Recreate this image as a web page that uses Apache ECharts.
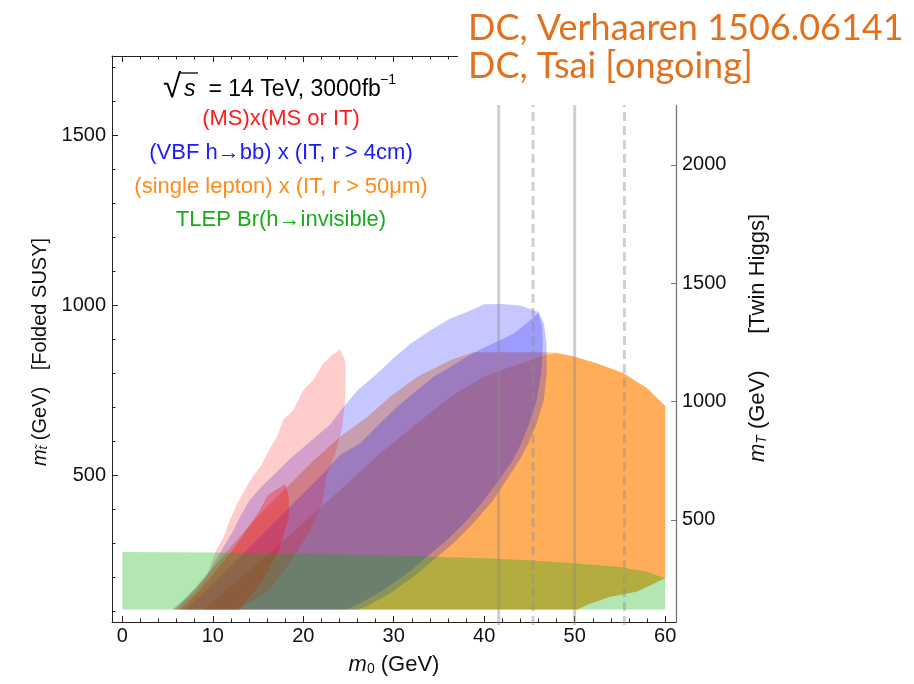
<!DOCTYPE html>
<html><head><meta charset="utf-8">
<script src="https://cdn.jsdelivr.net/npm/echarts@6/dist/echarts.min.js"></script>
<style>html,body{margin:0;padding:0;background:#fff}#c{width:914px;height:684px}</style>
</head><body><div id="c"></div>
<script>
// ---- tick values ----
const xTicks = [0, 10, 20, 30, 40, 50, 60];
const xMinorTicks = [2,4,6,8,12,14,16,18,22,24,26,28,32,34,36,38,42,44,46,48,52,54,56,58];
const yLeftTicks = [500, 1000, 1500];
const yLeftMinorTicks = [100,200,300,400,600,700,800,900,1100,1200,1300,1400,1600,1700];
const yRightTicks = [500, 1000, 1500, 2000];
// ---- vertical reference lines (m0 in GeV) ----
const solidLines = [41.6, 50.0];
const dashedLines = [45.4, 55.5];
// ---- regions: [m0, m_stop] ----
const orangeOuter = [[6,105],[50.3,105],[51.4,119],[53.9,143],[55.4,150],[56.9,158],[58,172],[60,197],[60,704],[58,756],[55.4,800],[52.5,829],[49.9,849],[48,860],[46.9,862],[38.8,862],[36.3,839],[32.6,790],[29.6,731],[27.1,672],[24.1,614],[21,540],[18,460],[15,380],[12,290],[9.5,210],[7.5,150]];
const orangeInner = [[9,105],[50.3,105],[51.4,119],[53.9,143],[55.4,150],[56.9,158],[58,172],[60,197],[60,704],[58,756],[55.4,800],[52.5,829],[49.9,849],[48,859],[46.5,852],[44.7,834],[42.5,815],[39.9,790],[36.3,731],[32.6,653],[28.5,565],[24.1,457],[20,360],[16,265],[12,175]];
const blueOuter = [[5.6,105],[6.7,133],[8.2,172],[9.7,221],[11.2,290],[12.3,339],[13,378],[14.1,428],[15.5,470],[17.1,510],[18.6,550],[20.8,600],[23,650],[24.1,690],[26,750],[27.9,793],[30,845],[31.8,886],[34,925],[36.2,960],[38.1,980],[40,1003],[41.8,1004],[44,999],[46,980],[46.6,947],[46.9,888],[46.9,800],[46.6,721],[45.8,653],[44.9,594],[43.9,545],[42.7,496],[41,427],[38.8,359],[36.6,300],[34.4,251],[32.2,202],[29.6,153],[27,114],[26,105]];
const blueInner = [[7,105],[10,180],[13,260],[16,340],[19,420],[22,500],[24.1,560],[26.3,594],[28.5,653],[30.4,702],[32.6,751],[34.4,790],[36.3,819],[38.1,849],[39.9,874],[41.8,898],[43.3,918],[44.7,947],[46,978],[46.4,940],[46.5,888],[46.3,800],[45.8,721],[45,653],[44.1,594],[43.2,545],[41.9,496],[40,427],[38.1,368],[35.9,310],[33.7,261],[31.5,212],[28.9,163],[26.3,124],[24.8,105]];
const pinkOuter = [[5.5,105],[6,113],[7.9,153],[9.3,202],[10.4,280],[11.2,319],[11.9,369],[12.7,417],[13.6,460],[14.5,500],[15.4,530],[16,564],[17.1,614],[17.8,663],[18.9,692],[20,751],[21.1,780],[22.2,829],[23.2,854],[24.1,870],[24.6,839],[24.7,800],[24.6,711],[24.3,640],[23.6,570],[22.6,500],[22.1,419],[20.8,339],[18.5,242],[16.3,163],[14.1,125],[12.5,105]];
const redInner = [[6.4,105],[7.1,123],[8.6,163],[10.4,221],[11.9,271],[13,310],[14.1,354],[15.2,398],[16.1,442],[16.7,452],[17.8,471],[18,476],[18.4,437],[18.4,378],[17.8,319],[17.3,280],[15.6,192],[14.1,143],[13,105]];
const greenRegion = [[0,105],[0,274],[10,273],[20,270],[30,264],[40,256],[45,250],[50,241],[55,230],[58,216],[60,197],[60,105]];

const FONT = '"Liberation Sans", Arial, sans-serif';

function polySeries(name, pts, fill) {
  return {
    type: 'custom', name: name, xAxisIndex: 0, yAxisIndex: 0, silent: true,
    data: pts, encode: {x: 0, y: 1},
    renderItem: function (params, api) {
      if (params.dataIndex !== 0) return null;
      return {type: 'polygon', shape: {points: pts.map(function (p) { return api.coord(p); })}, style: {fill: fill}};
    }
  };
}
function vlineSeries(xs, dashed) {
  return {
    type: 'custom', xAxisIndex: 0, yAxisIndex: 0, silent: true, clip: false, z: 5,
    data: xs.map(function (x) { return [x, 500]; }), encode: {x: 0, y: 1},
    renderItem: function (params, api) {
      const cs = params.coordSys;
      const px = api.coord([api.value(0), 500])[0];
      return {type: 'line', shape: {x1: px, y1: cs.y, x2: px, y2: cs.y + cs.height + 3},
        style: {stroke: 'rgba(140,140,140,0.42)', lineWidth: 3, lineDash: dashed ? [9, 5] : null}};
    }
  };
}

const XMIN = -1.14, XMAX = 61.2, YMIN = 68.5, YMAX = 1733, RMIN = 69, RMAX = 2460;
const tickStyle = {color: '#222', width: 1};
const plain = function (v) { return String(v); };
const lab = {fontSize: 20, fontFamily: FONT, color: '#111', formatter: plain};

const option = {
  animation: false,
  grid: {left: 112, right: 238, top: 56, bottom: 62, outerBoundsMode: 'none', containLabel: false},
  xAxis: [
    {type: 'value', position: 'bottom', min: XMIN, max: XMAX, splitLine: {show: false},
     axisLine: {show: true, onZero: false, lineStyle: tickStyle},
     axisTick: {show: true, inside: true, length: 6, customValues: xTicks, lineStyle: tickStyle},
     axisLabel: Object.assign({show: true, customValues: xTicks, margin: 4}, lab)},
    {type: 'value', position: 'bottom', min: XMIN, max: XMAX, splitLine: {show: false},
     axisLine: {show: false, onZero: false}, axisLabel: {show: false},
     axisTick: {show: true, inside: true, length: 3.5, customValues: xMinorTicks, lineStyle: tickStyle}},
    {type: 'value', position: 'top', min: XMIN, max: XMAX, splitLine: {show: false},
     axisLine: {show: true, onZero: false, lineStyle: tickStyle}, axisLabel: {show: false},
     axisTick: {show: true, inside: true, length: 6, customValues: xTicks, lineStyle: tickStyle}},
    {type: 'value', position: 'top', min: XMIN, max: XMAX, splitLine: {show: false},
     axisLine: {show: false, onZero: false}, axisLabel: {show: false},
     axisTick: {show: true, inside: true, length: 3.5, customValues: xMinorTicks, lineStyle: tickStyle}}
  ],
  yAxis: [
    {type: 'value', position: 'left', min: YMIN, max: YMAX, splitLine: {show: false},
     axisLine: {show: true, onZero: false, lineStyle: tickStyle},
     axisTick: {show: true, inside: true, length: 6, customValues: yLeftTicks, lineStyle: tickStyle},
     axisLabel: Object.assign({show: true, customValues: yLeftTicks, margin: 6}, lab)},
    {type: 'value', position: 'left', min: YMIN, max: YMAX, splitLine: {show: false},
     axisLine: {show: false, onZero: false}, axisLabel: {show: false},
     axisTick: {show: true, inside: true, length: 3.5, customValues: yLeftMinorTicks, lineStyle: tickStyle}},
    {type: 'value', position: 'right', min: RMIN, max: RMAX, splitLine: {show: false},
     axisLine: {show: true, onZero: false, lineStyle: {color: '#777', width: 1.3}},
     axisTick: {show: true, inside: true, length: 5, customValues: yRightTicks, lineStyle: {color: '#777'}},
     axisLabel: Object.assign({show: true, customValues: yRightTicks, margin: 6}, lab)}
  ],
  series: [
    polySeries('orangeOuter', orangeOuter, 'rgba(255,128,0,0.41)'),
    polySeries('orangeInner', orangeInner, 'rgba(255,128,0,0.41)'),
    polySeries('blueOuter', blueOuter, 'rgba(0,0,255,0.22)'),
    polySeries('blueInner', blueInner, 'rgba(0,0,255,0.22)'),
    polySeries('pinkOuter', pinkOuter, 'rgba(255,0,0,0.2)'),
    polySeries('redInner', redInner, 'rgba(255,0,0,0.3)'),
    polySeries('green', greenRegion, 'rgba(0,175,0,0.3)'),
    vlineSeries(solidLines, false),
    vlineSeries(dashedLines, true)
  ],
  graphic: [
    {type: 'rect', z: 100, shape: {x: 458, y: 0, width: 456, height: 105}, style: {fill: '#fff'}},
    {type: 'text', z: 101, x: 468, y: 28, style: {text: 'DC, Verhaaren 1506.06141', font: '36px Lato', fill: '#E2701C', textAlign: 'left', textVerticalAlign: 'middle'}},
    {type: 'text', z: 101, x: 468, y: 66, style: {text: 'DC, Tsai [ongoing]', font: '36px Lato', fill: '#E2701C', textAlign: 'left', textVerticalAlign: 'middle'}},
    // legend texts
    {type: 'text', z: 50, x: 163, y: 88, style: {text: '√', font: '33px ' + FONT, fill: '#000', textAlign: 'left', textVerticalAlign: 'middle'}},
    {type: 'line', z: 50, shape: {x1: 179, y1: 73, x2: 198, y2: 73}, style: {stroke: '#000', lineWidth: 1.3}},
    {type: 'text', z: 50, x: 184, y: 90, style: {text: 's', font: 'italic 23px ' + FONT, fill: '#000', textAlign: 'left', textVerticalAlign: 'middle'}},
    {type: 'text', z: 50, x: 202, y: 90, style: {text: ' = 14 TeV, 3000fb', font: '23px ' + FONT, fill: '#000', textAlign: 'left', textVerticalAlign: 'middle'}},
    {type: 'text', z: 50, x: 380, y: 80, style: {text: '−1', font: '14px ' + FONT, fill: '#000', textAlign: 'left', textVerticalAlign: 'middle'}},
    {type: 'text', z: 50, x: 281, y: 119, style: {text: '(MS)x(MS or IT)', font: '22px ' + FONT, fill: '#ff1a1a', textAlign: 'center', textVerticalAlign: 'middle'}},
    {type: 'text', z: 50, x: 281, y: 153, style: {text: '(VBF h→bb) x (IT, r > 4cm)', font: '22px ' + FONT, fill: '#1a1aff', textAlign: 'center', textVerticalAlign: 'middle'}},
    {type: 'text', z: 50, x: 281, y: 187, style: {text: '(single lepton) x (IT, r > 50μm)', font: '22px ' + FONT, fill: '#ff8c1a', textAlign: 'center', textVerticalAlign: 'middle'}},
    {type: 'text', z: 50, x: 281, y: 220, style: {text: 'TLEP Br(h→invisible)', font: '22px ' + FONT, fill: '#1aaa1a', textAlign: 'center', textVerticalAlign: 'middle'}},
    // axis titles
    {type: 'text', z: 50, x: 394, y: 665, style: {text: '{it|m}{sub|0} (GeV)', font: '22px ' + FONT, fill: '#111', textAlign: 'center', textVerticalAlign: 'middle',
      rich: {it: {font: 'italic 22px ' + FONT, fill: '#111'}, sub: {font: '14px ' + FONT, fill: '#111', verticalAlign: 'bottom', lineHeight: 12}}}},
    {type: 'text', z: 50, x: 40, y: 352, rotation: Math.PI / 2, style: {text: '{it|m}{sub|t̃} (GeV)   [Folded SUSY]', font: '20px ' + FONT, fill: '#111', textAlign: 'center', textVerticalAlign: 'middle',
      rich: {it: {font: 'italic 20px ' + FONT, fill: '#111'}, sub: {font: 'italic 13px ' + FONT, fill: '#111', verticalAlign: 'bottom', lineHeight: 12}}}},
    {type: 'text', z: 50, x: 758, y: 338, rotation: Math.PI / 2, style: {text: '{it|m}{sub|T} (GeV)      [Twin Higgs]', font: '22px ' + FONT, fill: '#111', textAlign: 'center', textVerticalAlign: 'middle',
      rich: {it: {font: 'italic 22px ' + FONT, fill: '#111'}, sub: {font: 'italic 14px ' + FONT, fill: '#111', verticalAlign: 'bottom', lineHeight: 12}}}}
  ]
};
const chart = echarts.init(document.getElementById('c'), null, {renderer: 'canvas'});
chart.setOption(option);
</script>
</body></html>
